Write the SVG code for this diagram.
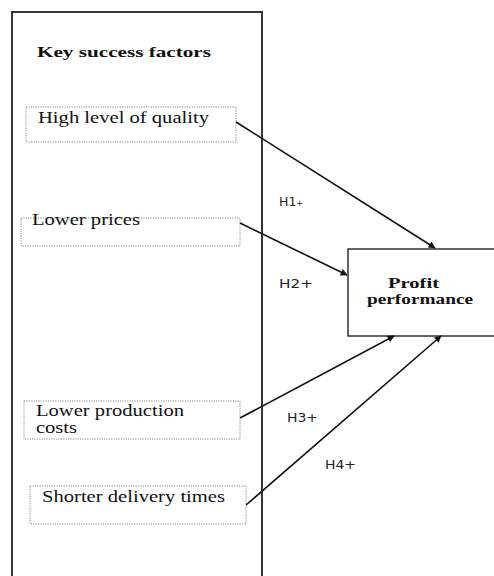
<svg xmlns="http://www.w3.org/2000/svg" width="494" height="576" viewBox="0 0 494 576">
<defs>
<style>
.serif{font-family:"Liberation Serif","Times New Roman",serif;fill:#111;font-size:16px}
.bold{font-weight:bold;font-size:15px}
.lab{font-family:"DejaVu Sans","Liberation Sans",sans-serif;fill:#222;font-size:12.5px}
.factor{fill:#fff;stroke:#888;stroke-width:1;stroke-dasharray:1.2 1.2}
.conn{stroke:#111;stroke-width:1.6;fill:none;marker-end:url(#arr)}
</style>
<marker id="arr" viewBox="0 0 10 10" refX="9" refY="5" markerWidth="8" markerHeight="7" markerUnits="userSpaceOnUse" orient="auto">
<path d="M0,0 L10,5 L0,10 z" fill="#111"/>
</marker>
</defs>
<rect width="494" height="576" fill="#fff"/>
<g id="outer">
<rect x="12" y="12" width="250" height="580" fill="none" stroke="#222" stroke-width="1.8"/>
<text class="serif bold" x="37" y="57" textLength="174" lengthAdjust="spacingAndGlyphs">Key success  factors</text>
</g>
<g id="quality">
<rect class="factor" x="26" y="107" width="210" height="35"/>
<text class="serif" x="38" y="123" textLength="171" lengthAdjust="spacingAndGlyphs">High level of quality</text>
</g>
<g id="prices">
<rect class="factor" x="21" y="218" width="219" height="28"/>
<text class="serif" x="32" y="225" textLength="108" lengthAdjust="spacingAndGlyphs">Lower prices</text>
</g>
<g id="costs">
<rect class="factor" x="24" y="401" width="216" height="38"/>
<text class="serif" x="36" y="416" textLength="148" lengthAdjust="spacingAndGlyphs">Lower production</text>
<text class="serif" x="36" y="433" textLength="41" lengthAdjust="spacingAndGlyphs">costs</text>
</g>
<g id="delivery">
<rect class="factor" x="30" y="486" width="216" height="38"/>
<text class="serif" x="42" y="502" textLength="183" lengthAdjust="spacingAndGlyphs">Shorter delivery times</text>
</g>
<g id="profit">
<rect x="348" y="249" width="150" height="87" fill="#fff" stroke="#222" stroke-width="1.4"/>
<text class="serif bold" x="388" y="288" textLength="51" lengthAdjust="spacingAndGlyphs">Profit</text>
<text class="serif bold" x="367" y="304" textLength="106" lengthAdjust="spacingAndGlyphs">performance</text>
</g>
<g id="connectors">
<line class="conn" x1="236" y1="122" x2="435" y2="248"/>
<line class="conn" x1="240" y1="223" x2="347" y2="275"/>
<line class="conn" x1="240" y1="418" x2="394" y2="336"/>
<line class="conn" x1="246" y1="505" x2="441" y2="336"/>
<text class="lab" x="279" y="206">H1<tspan font-size="8">+</tspan></text>
<text class="lab" x="279" y="288" textLength="34" lengthAdjust="spacingAndGlyphs">H2+</text>
<text class="lab" x="287" y="422" textLength="31" lengthAdjust="spacingAndGlyphs">H3+</text>
<text class="lab" x="325" y="469" textLength="31" lengthAdjust="spacingAndGlyphs">H4+</text>
</g>
</svg>
